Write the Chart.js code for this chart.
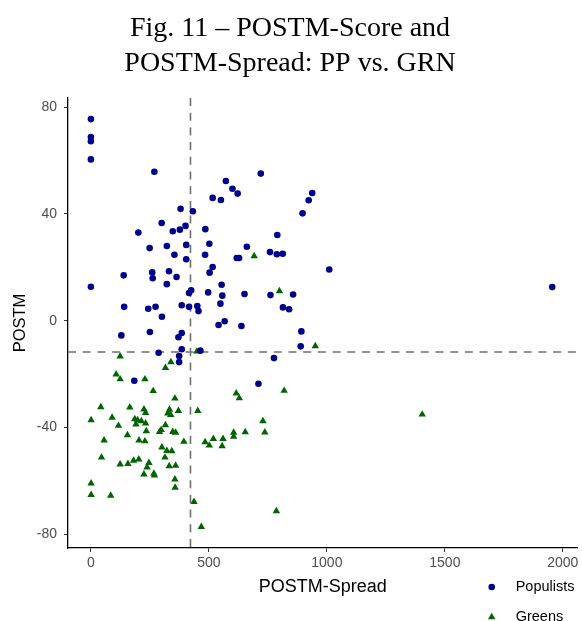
<!DOCTYPE html>
<html>
<head>
<meta charset="utf-8">
<script src="https://cdn.jsdelivr.net/npm/chart.js@4.4.0/dist/chart.umd.min.js"></script>
<style>
  body { margin: 0; background: #fff; }
</style>
</head>
<body>
<canvas id="out" width="582" height="621"></canvas>
<script>
// series names
const seriesNames = ["Populists", "Greens"];

// Populists: POSTM-Spread (x) and POSTM (y)
const populistSpread = [0, 0, 0, 0, 269, 572, 600, 622, 516, 551, 380, 432, 300, 201, 347, 377, 401, 485,
  249, 322, 404, 502, 661, 354, 484, 404, 618, 628, 720, 938, 923, 897, 790, 759, 788, 813,
  139, 260, 262, 331, 363, 322, 516, 503, 0, 554, 557, 651, 497, 425, 416, 549, 141, 243, 274,
  385, 416, 451, 456, 301, 567, 541, 638, 250, 129, 385, 371, 385, 287, 464, 374, 374,
  1010, 761, 857, 814, 840, 892, 889, 776, 184, 710, 1955];
const populistScore = [75.5, 68.8, 67.2, 60.4, 55.8, 52.3, 49.4, 47.6, 46.0, 45.2, 41.9, 41.0, 36.6, 33.0, 33.5, 34.1, 35.5, 34.3,
  27.2, 28.0, 28.4, 28.8, 27.7, 24.7, 24.7, 23.0, 23.5, 23.5, 55.1, 47.8, 45.1, 40.2, 32.1, 25.7, 24.9, 25.1,
  17.0, 18.1, 15.9, 18.5, 16.4, 13.7, 20.1, 18.0, 12.7, 13.5, 9.4, 10.0, 10.6, 11.4, 10.4, 6.4, 5.2, 4.5, 5.2,
  5.8, 5.2, 5.5, 3.6, 1.5, -0.2, -1.6, -2.0, -4.2, -5.5, -4.6, -6.2, -10.7, -12.0, -11.2, -13.2, -15.5,
  19.2, 9.6, 9.8, 5.0, 4.3, -4.0, -9.6, -14.0, -22.5, -23.6, 12.6];

// Greens
const greenSpread = [692, 124, 449, 339, 316, 799, 951, 107, 124, 229, 264, 356, 42, 165, 225, 232, 333, 326, 338, 371,
  453, 1, 90, 117, 186, 198, 214, 232, 191, 235, 155, 56, 204, 229, 298, 316, 291, 347, 359, 394,
  301, 322, 343, 314, 45, 124, 157, 181, 203, 246, 238, 225, 267, 269, 332, 359, 356, 357, 1, 1,
  84, 437, 468, 616, 629, 819, 484, 502, 519, 556, 560, 605, 605, 654, 729, 737, 786, 1404];
const greenScore = [24.2, -13.3, -11.5, -15.5, -17.6, 11.1, -9.5, -20.1, -21.9, -21.9, -26.3, -29.1, -32.3, -32.4, -33.2, -34.5, -33.3, -34.7, -35.2, -33.7,
  -33.7, -37.2, -36.3, -39.3, -36.8, -37.2, -37.6, -38.4, -38.8, -41.3, -42.8, -44.8, -44.8, -45.1, -40.9, -39.1, -41.6, -41.6, -41.9, -45.3,
  -47.4, -48.7, -48.8, -51.2, -51.2, -53.8, -53.6, -52.4, -51.9, -53.2, -54.9, -57.5, -57.2, -57.9, -54.4, -54.2, -59.4, -62.5, -60.9, -65.2,
  -65.5, -67.8, -77.2, -27.2, -29.0, -26.2, -45.4, -46.7, -44.2, -46.9, -44.2, -41.9, -43.4, -41.7, -37.6, -41.8, -71.3, -35.1];

// axis ticks
const xTicks = [0, 500, 1000, 1500, 2000];
const yTicks = [-80, -40, 0, 40, 80];

// dashed reference lines (mean spread / mean score)
const spreadCut = 422;
const scoreCut = -11.7;

const toPoints = (xs, ys) => xs.map((x, i) => ({ x: x, y: ys[i] }));

const sansFont = "'Liberation Sans', Arial, sans-serif";

// dashed cut lines, under the points
const cutLines = {
  id: "cutLines",
  beforeDatasetsDraw(chart) {
    const { ctx, chartArea, scales } = chart;
    const xp = scales.x.getPixelForValue(spreadCut);
    const yp = scales.y.getPixelForValue(scoreCut);
    ctx.save();
    ctx.strokeStyle = "#6f6f6f";
    ctx.lineWidth = 1.6;
    ctx.setLineDash([8, 6.7]);
    ctx.beginPath();
    ctx.moveTo(xp, chartArea.top);
    ctx.lineTo(xp, chartArea.bottom);
    ctx.moveTo(chartArea.left, yp);
    ctx.lineTo(chartArea.right, yp);
    ctx.stroke();
    ctx.restore();
  }
};

// ggplot-like legend in the bottom right corner, stacked
const stackedLegend = {
  id: "stackedLegend",
  afterDraw(chart) {
    const ctx = chart.ctx;
    const x0 = chart.chartArea.right - 86;
    let y = chart.height - 34;
    ctx.save();
    chart.data.datasets.forEach(ds => {
      ctx.fillStyle = ds.backgroundColor;
      Chart.helpers.drawPoint(ctx, {
        pointStyle: ds.pointStyle,
        radius: ds.pointStyle === "triangle" ? 4.3 : 3.3,
        rotation: 0,
        borderWidth: 0
      }, x0, y);
      ctx.fillStyle = "#000";
      ctx.font = "14.5px " + sansFont;
      ctx.textBaseline = "middle";
      ctx.textAlign = "left";
      ctx.fillText(ds.label, x0 + 24, y);
      y += 30;
    });
    ctx.restore();
  }
};

const chartConfig = {
  type: "scatter",
  data: {
    datasets: [
      {
        label: seriesNames[0],
        data: toPoints(populistSpread, populistScore),
        backgroundColor: "#00008b",
        borderColor: "#00008b",
        borderWidth: 0,
        pointStyle: "circle",
        pointRadius: 3.3
      },
      {
        label: seriesNames[1],
        data: toPoints(greenSpread, greenScore),
        backgroundColor: "#006400",
        borderColor: "#006400",
        borderWidth: 0,
        pointStyle: "triangle",
        pointRadius: 4.3
      }
    ]
  },
  options: {
    responsive: false,
    animation: false,
    layout: { padding: { top: 0, left: 0, right: 2, bottom: 23 } },
    plugins: {
      legend: { display: false },
      tooltip: { enabled: false },
      title: {
        display: true,
        text: ["Fig. 11 – POSTM-Score and", "POSTM-Spread: PP vs. GRN"],
        color: "#000",
        font: { family: "'Liberation Serif', 'Times New Roman', serif", size: 28, weight: "normal", lineHeight: 1.25 },
        padding: { top: 11, bottom: 17 }
      }
    },
    scales: {
      x: {
        type: "linear",
        min: -97,
        max: 2063,
        afterBuildTicks: scale => { scale.ticks = xTicks.map(v => ({ value: v })); },
        afterFit: scale => { scale.height = 50; },
        grid: { drawOnChartArea: false, drawTicks: true, tickLength: 4, color: "#333", lineWidth: 1 },
        border: { display: true, color: "#000", width: 1.3 },
        ticks: { color: "#4d4d4d", font: { family: sansFont, size: 14 }, padding: 3, maxRotation: 0,
          callback: v => String(v) },
        title: { display: true, text: "POSTM-Spread", color: "#000", font: { family: sansFont, size: 18 }, padding: { top: 0, bottom: 0 } }
      },
      y: {
        type: "linear",
        min: -85.1,
        max: 83.4,
        afterBuildTicks: scale => { scale.ticks = yTicks.map(v => ({ value: v })); },
        afterFit: scale => { scale.width = 68; },
        grid: { drawOnChartArea: false, drawTicks: true, tickLength: 4, color: "#333", lineWidth: 1 },
        border: { display: true, color: "#000", width: 1.3 },
        ticks: { color: "#4d4d4d", font: { family: sansFont, size: 14 }, padding: 7,
          callback: v => String(v) },
        title: { display: true, text: "POSTM", color: "#000", font: { family: sansFont, size: 16.5 }, padding: { top: 11, bottom: 0 } }
      }
    }
  },
  plugins: [cutLines, stackedLegend]
};

const canvasCtx = document.getElementById("out").getContext("2d");
window.chart = new Chart(canvasCtx, chartConfig);
</script>
</body>
</html>
